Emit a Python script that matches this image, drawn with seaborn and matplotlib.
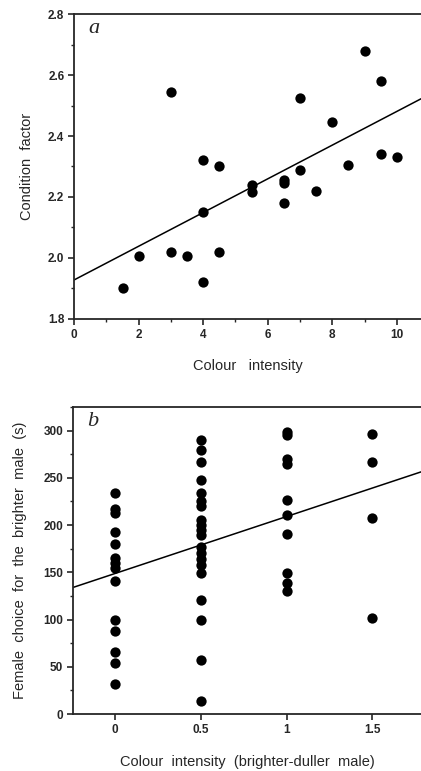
import pandas as pd
import matplotlib.pyplot as plt
import seaborn as sns
from matplotlib.ticker import MultipleLocator

# panel a: colour intensity vs condition factor
colour_a = [1.5, 2.0, 3.0, 3.0, 3.5, 4.0, 4.0, 4.0, 4.5, 4.5, 5.5, 5.5,
            6.5, 6.5, 6.5, 7.0, 7.0, 7.5, 8.0, 8.5, 9.0, 9.5, 9.5, 10.0]
condition_a = [1.90, 2.005, 2.02, 2.545, 2.005, 2.32, 2.15, 1.92, 2.30, 2.02, 2.24, 2.215,
               2.255, 2.245, 2.18, 2.29, 2.525, 2.22, 2.445, 2.305, 2.68, 2.58, 2.34, 2.33]

# panel b: colour difference vs female choice time (s)
diff_0 = [234, 217, 213, 193, 180, 165, 160, 155, 141, 100, 88, 66, 54, 32]
diff_05 = [290, 279, 267, 248, 234, 225, 220, 205, 200, 195, 190, 177, 170,
           164, 158, 149, 121, 100, 57, 14]
diff_1 = [299, 295, 270, 265, 227, 211, 191, 149, 139, 130]
diff_15 = [296, 267, 207, 102]
diff_levels = [0, 0.5, 1, 1.5]

df_a = pd.DataFrame({"colour": colour_a, "condition": condition_a})
rows = []
for lvl, vals in zip(diff_levels, [diff_0, diff_05, diff_1, diff_15]):
    for v in vals:
        rows.append((lvl, v))
df_b = pd.DataFrame(rows, columns=["diff", "choice"])

sns.set_style("ticks")
plt.rcParams['font.family'] = ['Liberation Sans', 'DejaVu Sans']
plt.rcParams['axes.linewidth'] = 1.3

fig = plt.figure(figsize=(4.21, 7.71), dpi=100)
ax1 = fig.add_axes([0.176, 0.5863, 0.824, 0.3955])
ax2 = fig.add_axes([0.1734, 0.0739, 0.8266, 0.3982])

# ---- panel a
ax1.set_xlim(0, 10.75)
ax1.set_ylim(1.8, 2.8)
sns.scatterplot(data=df_a, x="colour", y="condition", ax=ax1, color="black",
                s=55, edgecolor="black", linewidth=0)
sns.regplot(data=df_a, x="colour", y="condition", ax=ax1, scatter=False, ci=None,
            truncate=False, color="black", line_kws={"linewidth": 1.1})
ax1.set_xlim(0, 10.75)
ax1.set_ylim(1.8, 2.8)
ax1.xaxis.set_major_locator(MultipleLocator(2))
ax1.xaxis.set_minor_locator(MultipleLocator(1))
ax1.yaxis.set_major_locator(MultipleLocator(0.2))
ax1.yaxis.set_minor_locator(MultipleLocator(0.1))
ax1.set_yticklabels([f"{v:.1f}" for v in ax1.get_yticks()])
ax1.set_xlabel("Colour   intensity", fontsize=10.5, labelpad=13)
ax1.set_ylabel("Condition  factor", fontsize=10.5, labelpad=10)
ax1.text(0.04, 0.985, "a", transform=ax1.transAxes, fontsize=16, style="italic",
         family=["Liberation Serif"], va="top", ha="left")

# ---- panel b
ax2.set_xlim(-0.245, 1.783)
ax2.set_ylim(0, 325)
sns.scatterplot(data=df_b, x="diff", y="choice", ax=ax2, color="black",
                s=55, edgecolor="black", linewidth=0)
sns.regplot(data=df_b, x="diff", y="choice", ax=ax2, scatter=False, ci=None,
            truncate=False, color="black", line_kws={"linewidth": 1.1})
ax2.set_xlim(-0.245, 1.783)
ax2.set_ylim(0, 325)
ax2.set_xticks(diff_levels)
ax2.set_xticklabels(["0", "0.5", "1", "1.5"])
ax2.yaxis.set_major_locator(MultipleLocator(50))
ax2.yaxis.set_minor_locator(MultipleLocator(25))
ax2.set_xlabel("Colour  intensity  (brighter-duller  male)", fontsize=10.5, labelpad=14)
ax2.set_ylabel("Female  choice  for  the  brighter  male  (s)", fontsize=10.5, labelpad=12)
ax2.text(0.04, 0.985, "b", transform=ax2.transAxes, fontsize=16, style="italic",
         family=["Liberation Serif"], va="top", ha="left")

for ax in (ax1, ax2):
    ax.spines["right"].set_visible(False)
    ax.tick_params(which="major", length=4, width=1.2, labelsize=8.5, direction="out", pad=3)
    ax.tick_params(which="minor", length=2.5, width=1.0, direction="out")
    for lab in ax.get_xticklabels() + ax.get_yticklabels():
        lab.set_fontweight("bold")

fig.savefig("out.png", dpi=100, facecolor="white")
